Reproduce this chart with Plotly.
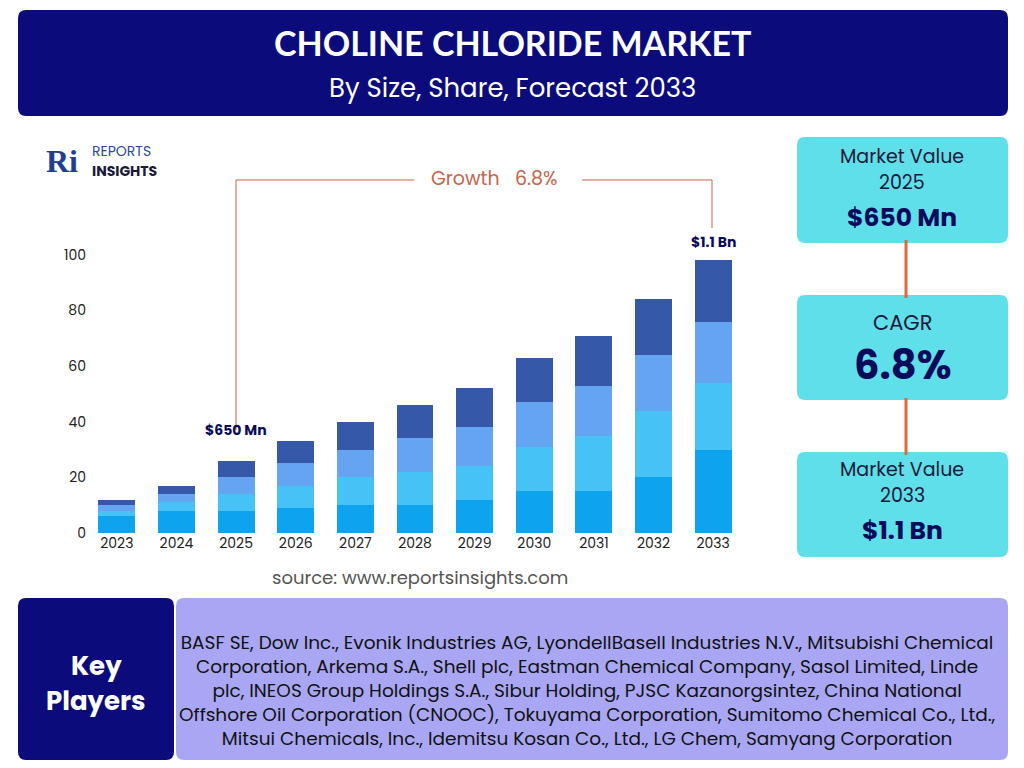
import plotly.graph_objects as go

years = ["2023","2024","2025","2026","2027","2028","2029","2030","2031","2032","2033"]
seg1 = [6, 8, 8, 9, 10, 10, 12, 15, 15, 20, 30]
seg2 = [2, 3, 6, 8, 10, 12, 12, 16, 20, 24, 24]
seg3 = [2, 3, 6, 8, 10, 12, 14, 16, 18, 20, 22]
seg4 = [2, 3, 6, 8, 10, 12, 14, 16, 18, 20, 22]
seg_colors = ["#0ea3ee", "#46c2f6", "#64a4f1", "#3558a8"]
y_ticks = [0, 20, 40, 60, 80, 100]

OFF = 8
W, H = 1024 - 2 * OFF, 762
SY = 0.987
def px(x): return (x - OFF) / W
def py(y): return 1 - (y - OFF) / SY / H

fig = go.Figure()
for s, c in zip([seg1, seg2, seg3, seg4], seg_colors):
    fig.add_trace(go.Bar(x=years, y=s, marker=dict(color=c, line=dict(width=0)), width=0.62, showlegend=False))

shapes = []
def rect(x0, y0, x1, y1, color, r=8):
    X0, X1, Y0, Y1 = px(x0), px(x1), py(y1), py(y0)
    rx, ry = r / W, r / H
    path = (f"M {X0+rx},{Y0} L {X1-rx},{Y0} Q {X1},{Y0} {X1},{Y0+ry} L {X1},{Y1-ry} Q {X1},{Y1} {X1-rx},{Y1} "
            f"L {X0+rx},{Y1} Q {X0},{Y1} {X0},{Y1-ry} L {X0},{Y0+ry} Q {X0},{Y0} {X0+rx},{Y0} Z")
    shapes.append(dict(type="path", xref="paper", yref="paper", path=path,
                       fillcolor=color, line=dict(width=0), layer="below"))
def line(x0, y0, x1, y1, color, w=1):
    shapes.append(dict(type="line", xref="paper", yref="paper", x0=px(x0), x1=px(x1), y0=py(y0), y1=py(y1),
                       line=dict(color=color, width=w)))

rect(18, 10, 1008, 116, "#0b0b7c")
gc = "#c8634c"
line(236, 430, 236, 180, gc); line(236, 180, 414, 180, gc)
line(582, 180, 712, 180, gc); line(712, 180, 712, 228, gc)
line(906, 240, 906, 298, "#e0673e", 3); line(906, 398, 906, 455, "#e0673e", 3)
rect(797, 137, 1008, 243, "#5fdfe9")
rect(797, 295, 1008, 400, "#5fdfe9")
rect(797, 452, 1008, 557, "#5fdfe9")
rect(18, 598, 174, 760, "#0b0b7c")
rect(176, 598, 1008, 760, "#a9a7f4")

ann = []
def text(x, y, t, size, color, bold=False, xa="center", font="Poppins, Lato, sans-serif"):
    ann.append(dict(xref="paper", yref="paper", x=px(x), y=py(y), text=(f"<b>{t}</b>" if bold else t),
                    showarrow=False, xanchor=xa, yanchor="middle",
                    font=dict(size=size, color=color, family=font)))

text(512, 43, "CHOLINE CHLORIDE MARKET", 34, "white", True, font="Lato, sans-serif")
text(512, 88, "By Size, Share, Forecast 2033", 26, "white")
text(494, 179, "Growth   6.8%", 19, gc)
text(236, 430, "$650 Mn", 14, "#0b0b5c", True)
text(713, 242, "$1.1 Bn", 14, "#0b0b5c", True)
text(420, 578, "source: www.reportsinsights.com", 18, "#555555")
text(902, 157, "Market Value", 19, "#1a1a3a")
text(902, 183, "2025", 19, "#1a1a3a")
text(902, 218, "$650 Mn", 25, "#0b0b5c", True)
text(902, 323, "CAGR", 21, "#1a1a3a")
text(902, 365, "6.8%", 40, "#0b0b5c", True)
text(902, 470, "Market Value", 19, "#1a1a3a")
text(902, 496, "2033", 19, "#1a1a3a")
text(902, 531, "$1.1 Bn", 25, "#0b0b5c", True)
text(96, 666, "Key", 26, "white", True)
text(96, 701, "Players", 26, "white", True)
players = ("BASF SE, Dow Inc., Evonik Industries AG, LyondellBasell Industries N.V., Mitsubishi Chemical<br>"
           "Corporation, Arkema S.A., Shell plc, Eastman Chemical Company, Sasol Limited, Linde<br>"
           "plc, INEOS Group Holdings S.A., Sibur Holding, PJSC Kazanorgsintez, China National<br>"
           "Offshore Oil Corporation (CNOOC), Tokuyama Corporation, Sumitomo Chemical Co., Ltd.,<br>"
           "Mitsui Chemicals, Inc., Idemitsu Kosan Co., Ltd., LG Chem, Samyang Corporation")
text(587, 691, players, 18.5, "#111111")
text(62, 161, "<b>Ri</b>", 32, "#1f3f8f", font="Liberation Serif, serif")
text(90, 151, "REPORTS", 14, "#2a4aa0", False, "left")
text(90, 171, "INSIGHTS", 14, "#1a1a3a", True, "left")

fig.update_layout(
    width=W, height=H, barmode="stack",
    paper_bgcolor="white", plot_bgcolor="rgba(0,0,0,0)",
    margin=dict(l=0, r=0, t=0, b=0),
    shapes=shapes, annotations=ann,
    xaxis=dict(domain=[px(87), px(743)], range=[-0.5, 10.5], showgrid=False, showline=False,
               tickfont=dict(size=14, color="#222", family="Poppins, Lato, sans-serif"), ticks=""),
    yaxis=dict(domain=[py(533), py(241)], range=[0, 105], showgrid=False, zeroline=False,
               tickvals=y_ticks, tickfont=dict(size=14, color="#222", family="Poppins, Lato, sans-serif")),
)
fig.write_html("out.html")
